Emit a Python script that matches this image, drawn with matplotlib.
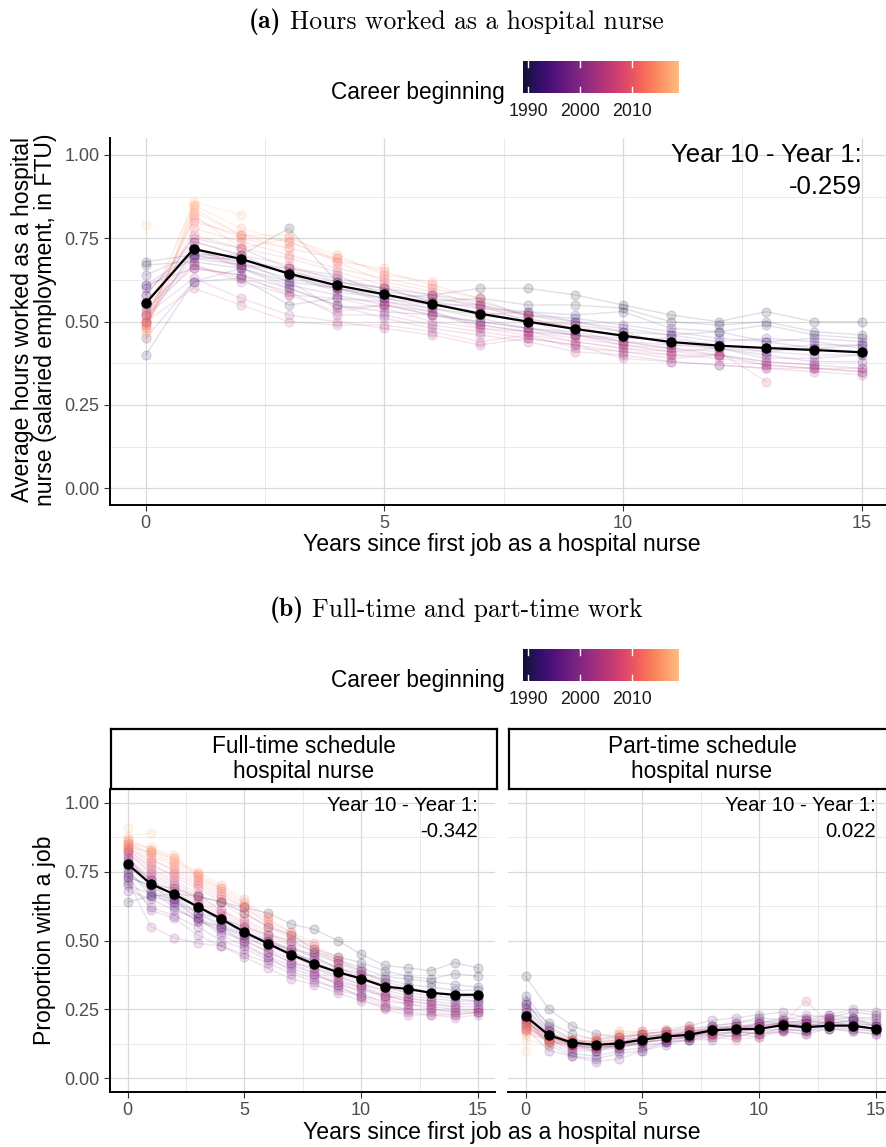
import numpy as np
import matplotlib.pyplot as plt
from matplotlib.colors import LinearSegmentedColormap, Normalize

plt.rcParams['font.family'] = ['Liberation Sans', 'DejaVu Sans']

W, H = 887, 1147

# ---- data ----
cohorts = list(range(1989, 2020))
years = list(range(16))

# (a) average hours worked, one list per career-start cohort
hours = [
    [0.68, 0.70, 0.70, 0.78, 0.62, 0.60, 0.58, 0.60, 0.60, 0.58, 0.55, 0.52, 0.50, 0.53, 0.50, 0.50],
    [0.67, 0.68, 0.66, 0.62, 0.60, 0.58, 0.56, 0.57, 0.55, 0.55, 0.54, 0.50, 0.49, 0.50, 0.47, 0.46],
    [0.40, 0.62, 0.63, 0.55, 0.57, 0.56, 0.54, 0.52, 0.53, 0.52, 0.53, 0.48, 0.47, 0.44, 0.45, 0.44],
    [0.64, 0.70, 0.67, 0.65, 0.62, 0.59, 0.57, 0.55, 0.52, 0.50, 0.47, 0.46, 0.47, 0.49, 0.46, 0.45],
    [0.61, 0.66, 0.64, 0.60, 0.55, 0.53, 0.52, 0.50, 0.48, 0.46, 0.43, 0.41, 0.42, 0.40, 0.38, 0.38],
    [0.60, 0.69, 0.67, 0.63, 0.60, 0.57, 0.58, 0.56, 0.52, 0.51, 0.49, 0.47, 0.45, 0.44, 0.42, 0.43],
    [0.45, 0.62, 0.66, 0.61, 0.58, 0.55, 0.53, 0.49, 0.47, 0.46, 0.45, 0.45, 0.43, 0.41, 0.42, 0.41],
    [0.61, 0.70, 0.68, 0.66, 0.63, 0.60, 0.56, 0.54, 0.53, 0.50, 0.48, 0.46, 0.44, 0.45, 0.44, 0.42],
    [0.58, 0.74, 0.70, 0.64, 0.60, 0.57, 0.55, 0.55, 0.50, 0.49, 0.47, 0.43, 0.43, 0.42, 0.43, 0.43],
    [0.50, 0.71, 0.68, 0.62, 0.54, 0.55, 0.52, 0.50, 0.48, 0.47, 0.44, 0.43, 0.42, 0.39, 0.39, 0.40],
    [0.58, 0.75, 0.72, 0.66, 0.64, 0.58, 0.55, 0.53, 0.51, 0.48, 0.46, 0.44, 0.42, 0.41, 0.40, 0.40],
    [0.53, 0.69, 0.69, 0.64, 0.59, 0.57, 0.54, 0.51, 0.48, 0.46, 0.44, 0.42, 0.40, 0.38, 0.37, 0.36],
    [0.55, 0.67, 0.63, 0.59, 0.52, 0.52, 0.49, 0.47, 0.45, 0.43, 0.41, 0.39, 0.40, 0.37, 0.36, 0.35],
    [0.56, 0.72, 0.66, 0.60, 0.55, 0.51, 0.48, 0.46, 0.44, 0.41, 0.40, 0.38, 0.37, 0.36, 0.35, 0.34],
    [0.52, 0.63, 0.57, 0.52, 0.50, 0.48, 0.46, 0.43, 0.45, 0.43, 0.39, 0.38, 0.37, 0.36, 0.36, 0.35],
    [0.54, 0.66, 0.64, 0.58, 0.57, 0.54, 0.50, 0.48, 0.47, 0.44, 0.42, 0.40, 0.39, 0.37, 0.36, 0.36],
    [0.50, 0.60, 0.55, 0.50, 0.49, 0.49, 0.47, 0.44, 0.46, 0.42, 0.41, 0.40, 0.40, 0.38, 0.37],
    [0.52, 0.67, 0.62, 0.58, 0.53, 0.55, 0.52, 0.49, 0.47, 0.45, 0.43, 0.42, 0.41, 0.32],
    [0.49, 0.72, 0.67, 0.66, 0.60, 0.56, 0.53, 0.48, 0.46, 0.44, 0.42, 0.41, 0.40],
    [0.50, 0.74, 0.70, 0.67, 0.62, 0.60, 0.56, 0.52, 0.50, 0.46, 0.44, 0.42],
    [0.52, 0.76, 0.72, 0.69, 0.65, 0.61, 0.58, 0.54, 0.52, 0.49, 0.45],
    [0.48, 0.78, 0.74, 0.70, 0.66, 0.63, 0.60, 0.57, 0.51, 0.48],
    [0.51, 0.80, 0.76, 0.74, 0.68, 0.62, 0.59, 0.55, 0.52],
    [0.50, 0.81, 0.75, 0.72, 0.69, 0.65, 0.61, 0.57],
    [0.49, 0.82, 0.72, 0.75, 0.70, 0.64, 0.62],
    [0.48, 0.83, 0.76, 0.76, 0.68, 0.66],
    [0.53, 0.85, 0.78, 0.74, 0.69],
    [0.47, 0.84, 0.76, 0.72],
    [0.50, 0.86, 0.82],
    [0.46, 0.85],
    [0.79],
]
mean_hours = [0.555, 0.718, 0.688, 0.644, 0.609, 0.582, 0.553, 0.524,
              0.500, 0.478, 0.458, 0.439, 0.428, 0.421, 0.415, 0.408]

# (b) proportion with a full-time hospital nurse job
fulltime = [
    [0.64, 0.66, 0.67, 0.66, 0.64, 0.62, 0.60, 0.56, 0.54, 0.50, 0.45, 0.41, 0.40, 0.39, 0.42, 0.40],
    [0.73, 0.70, 0.69, 0.66, 0.64, 0.60, 0.55, 0.52, 0.47, 0.44, 0.42, 0.39, 0.37, 0.36, 0.38, 0.37],
    [0.70, 0.67, 0.65, 0.60, 0.58, 0.55, 0.52, 0.50, 0.46, 0.43, 0.40, 0.37, 0.36, 0.35, 0.34, 0.33],
    [0.75, 0.68, 0.62, 0.57, 0.55, 0.52, 0.50, 0.47, 0.44, 0.40, 0.38, 0.36, 0.34, 0.33, 0.32, 0.32],
    [0.76, 0.66, 0.64, 0.60, 0.56, 0.52, 0.49, 0.47, 0.45, 0.42, 0.39, 0.35, 0.33, 0.31, 0.30, 0.30],
    [0.73, 0.70, 0.65, 0.58, 0.55, 0.51, 0.48, 0.45, 0.43, 0.40, 0.37, 0.34, 0.32, 0.31, 0.30, 0.29],
    [0.79, 0.72, 0.66, 0.62, 0.57, 0.53, 0.50, 0.46, 0.42, 0.39, 0.36, 0.33, 0.31, 0.30, 0.29, 0.28],
    [0.68, 0.65, 0.61, 0.58, 0.53, 0.50, 0.46, 0.42, 0.40, 0.37, 0.34, 0.32, 0.30, 0.29, 0.28, 0.28],
    [0.71, 0.62, 0.59, 0.55, 0.50, 0.47, 0.43, 0.40, 0.37, 0.35, 0.33, 0.30, 0.29, 0.28, 0.27, 0.27],
    [0.77, 0.70, 0.64, 0.58, 0.52, 0.48, 0.44, 0.41, 0.38, 0.34, 0.32, 0.30, 0.28, 0.27, 0.26, 0.26],
    [0.74, 0.61, 0.58, 0.52, 0.48, 0.45, 0.42, 0.38, 0.35, 0.33, 0.30, 0.28, 0.27, 0.26, 0.25, 0.25],
    [0.80, 0.72, 0.66, 0.60, 0.55, 0.49, 0.44, 0.39, 0.36, 0.32, 0.30, 0.26, 0.25, 0.25, 0.24, 0.24],
    [0.72, 0.55, 0.51, 0.49, 0.48, 0.44, 0.40, 0.36, 0.34, 0.31, 0.28, 0.26, 0.24, 0.23, 0.23, 0.24],
    [0.81, 0.69, 0.63, 0.57, 0.54, 0.50, 0.46, 0.42, 0.38, 0.34, 0.29, 0.25, 0.23, 0.23, 0.22, 0.23],
    [0.78, 0.72, 0.68, 0.63, 0.58, 0.52, 0.47, 0.43, 0.39, 0.35, 0.31, 0.27, 0.25, 0.24, 0.23, 0.24],
    [0.82, 0.74, 0.70, 0.65, 0.60, 0.55, 0.50, 0.45, 0.40, 0.36, 0.33, 0.29, 0.27, 0.25, 0.24, 0.25],
    [0.80, 0.73, 0.69, 0.64, 0.59, 0.54, 0.49, 0.44, 0.41, 0.37, 0.34, 0.30, 0.28, 0.27, 0.26],
    [0.83, 0.76, 0.72, 0.67, 0.61, 0.56, 0.51, 0.46, 0.42, 0.38, 0.35, 0.31, 0.29, 0.28],
    [0.82, 0.75, 0.71, 0.66, 0.61, 0.57, 0.52, 0.48, 0.44, 0.40, 0.36, 0.33, 0.31],
    [0.84, 0.78, 0.73, 0.69, 0.64, 0.58, 0.53, 0.49, 0.46, 0.42, 0.38, 0.35],
    [0.83, 0.77, 0.74, 0.70, 0.65, 0.60, 0.55, 0.51, 0.47, 0.43, 0.39],
    [0.85, 0.80, 0.75, 0.71, 0.66, 0.62, 0.56, 0.52, 0.48, 0.44],
    [0.84, 0.79, 0.76, 0.72, 0.67, 0.62, 0.57, 0.53, 0.49],
    [0.86, 0.81, 0.77, 0.73, 0.68, 0.63, 0.58, 0.53],
    [0.85, 0.82, 0.78, 0.74, 0.69, 0.64, 0.59],
    [0.86, 0.83, 0.79, 0.75, 0.70, 0.65],
    [0.84, 0.82, 0.80, 0.73, 0.69],
    [0.87, 0.83, 0.81, 0.74],
    [0.85, 0.84, 0.80],
    [0.88, 0.89],
    [0.91],
]
mean_fulltime = [0.778, 0.705, 0.668, 0.623, 0.579, 0.531, 0.489, 0.449,
                 0.414, 0.385, 0.362, 0.333, 0.324, 0.310, 0.303, 0.303]

# (b) proportion with a part-time hospital nurse job
parttime = [
    [0.27, 0.20, 0.16, 0.14, 0.15, 0.16, 0.17, 0.18, 0.19, 0.20, 0.22, 0.21, 0.20, 0.22, 0.24, 0.23],
    [0.37, 0.25, 0.19, 0.16, 0.15, 0.16, 0.15, 0.17, 0.17, 0.18, 0.20, 0.20, 0.21, 0.20, 0.21, 0.20],
    [0.20, 0.13, 0.09, 0.08, 0.10, 0.11, 0.13, 0.14, 0.16, 0.15, 0.17, 0.18, 0.17, 0.19, 0.19, 0.18],
    [0.30, 0.19, 0.14, 0.12, 0.11, 0.13, 0.14, 0.15, 0.18, 0.19, 0.19, 0.20, 0.19, 0.20, 0.21, 0.19],
    [0.24, 0.15, 0.12, 0.10, 0.12, 0.12, 0.13, 0.14, 0.15, 0.17, 0.16, 0.18, 0.17, 0.18, 0.18, 0.17],
    [0.28, 0.17, 0.13, 0.12, 0.13, 0.15, 0.16, 0.15, 0.17, 0.18, 0.18, 0.19, 0.18, 0.21, 0.22, 0.19],
    [0.22, 0.12, 0.08, 0.07, 0.09, 0.10, 0.12, 0.14, 0.14, 0.16, 0.15, 0.17, 0.16, 0.18, 0.17, 0.16],
    [0.27, 0.18, 0.14, 0.13, 0.14, 0.16, 0.17, 0.19, 0.21, 0.22, 0.23, 0.24, 0.22, 0.23, 0.22, 0.22],
    [0.18, 0.10, 0.08, 0.06, 0.07, 0.10, 0.13, 0.15, 0.17, 0.18, 0.19, 0.20, 0.19, 0.20, 0.20, 0.19],
    [0.25, 0.17, 0.12, 0.11, 0.12, 0.13, 0.15, 0.16, 0.19, 0.18, 0.20, 0.22, 0.21, 0.23, 0.25, 0.24],
    [0.21, 0.14, 0.10, 0.10, 0.11, 0.13, 0.14, 0.15, 0.16, 0.17, 0.16, 0.17, 0.18, 0.19, 0.18, 0.17],
    [0.26, 0.16, 0.12, 0.11, 0.12, 0.14, 0.16, 0.17, 0.19, 0.20, 0.21, 0.20, 0.20, 0.21, 0.19, 0.18],
    [0.23, 0.16, 0.13, 0.12, 0.13, 0.14, 0.15, 0.16, 0.18, 0.19, 0.20, 0.21, 0.23, 0.22, 0.20, 0.19],
    [0.19, 0.14, 0.11, 0.10, 0.12, 0.13, 0.14, 0.15, 0.17, 0.16, 0.18, 0.19, 0.20, 0.18, 0.17, 0.16],
    [0.22, 0.15, 0.12, 0.12, 0.13, 0.15, 0.16, 0.16, 0.17, 0.18, 0.19, 0.20, 0.21, 0.22, 0.22, 0.21],
    [0.21, 0.14, 0.11, 0.11, 0.12, 0.14, 0.15, 0.16, 0.16, 0.17, 0.18, 0.19, 0.20, 0.20, 0.19, 0.18],
    [0.24, 0.16, 0.13, 0.12, 0.13, 0.15, 0.16, 0.17, 0.18, 0.19, 0.18, 0.20, 0.28, 0.20, 0.19],
    [0.20, 0.15, 0.12, 0.11, 0.12, 0.13, 0.15, 0.15, 0.16, 0.15, 0.17, 0.18, 0.19, 0.21],
    [0.19, 0.13, 0.12, 0.12, 0.13, 0.14, 0.15, 0.17, 0.18, 0.17, 0.16, 0.17, 0.16],
    [0.22, 0.16, 0.13, 0.13, 0.13, 0.14, 0.16, 0.16, 0.17, 0.18, 0.19, 0.20],
    [0.18, 0.14, 0.12, 0.11, 0.11, 0.13, 0.14, 0.15, 0.15, 0.14, 0.15],
    [0.21, 0.15, 0.14, 0.13, 0.14, 0.15, 0.16, 0.18, 0.17, 0.19],
    [0.17, 0.14, 0.12, 0.12, 0.14, 0.16, 0.17, 0.17, 0.18],
    [0.20, 0.16, 0.14, 0.13, 0.15, 0.17, 0.18, 0.19],
    [0.18, 0.15, 0.13, 0.14, 0.16, 0.17, 0.16],
    [0.19, 0.16, 0.14, 0.15, 0.17, 0.17],
    [0.17, 0.13, 0.13, 0.14, 0.16],
    [0.16, 0.14, 0.13, 0.12],
    [0.19, 0.15, 0.14],
    [0.14, 0.12],
    [0.10],
]
mean_parttime = [0.225, 0.156, 0.129, 0.121, 0.126, 0.140, 0.151, 0.158,
                 0.174, 0.178, 0.179, 0.193, 0.185, 0.191, 0.191, 0.179]

diff_hours = "-0.259"
diff_fulltime = "-0.342"
diff_parttime = "0.022"

cbar_ticks = [1990, 2000, 2010]
y_ticks = [0.0, 0.25, 0.5, 0.75, 1.0]
x_ticks = [0, 5, 10, 15]

# magma, trimmed like viridis begin/end
cmap = LinearSegmentedColormap.from_list(
    'magma_cut', plt.get_cmap('magma')(np.linspace(0.1, 0.86, 256)))
norm = Normalize(cohorts[0], cohorts[-1])

fig = plt.figure(figsize=(W / 100, H / 100), dpi=100)
renderer = fig.canvas.get_renderer()


def px_axes(x0, y0, x1, y1):
    return fig.add_axes([x0 / W, 1 - y1 / H, (x1 - x0) / W, (y1 - y0) / H])


def serif_title(ycenter, tag, rest, fs=18.5):
    # bold tag + regular text, centred as one line
    t1 = fig.text(0, 0, tag, family='cmb10', fontsize=fs, va='center')
    t2 = fig.text(0, 0, rest, family='cmr10', fontsize=fs, va='center')
    w1 = t1.get_window_extent(renderer).width
    w2 = t2.get_window_extent(renderer).width
    gap = 0.33 * fs * 100 / 72
    x0 = 456 - (w1 + gap + w2) / 2
    t1.set_position((x0 / W, 1 - ycenter / H))
    t2.set_position(((x0 + w1 + gap) / W, 1 - ycenter / H))


def style_axes(ax, show_y=True):
    ax.set_xlim(-0.75, 15.75)
    ax.set_ylim(-0.05, 1.05)
    ax.set_xticks(x_ticks)
    ax.set_xticks([2.5, 7.5, 12.5], minor=True)
    ax.set_yticks(y_ticks)
    ax.set_yticks([0.125, 0.375, 0.625, 0.875], minor=True)
    ax.set_yticklabels(['%.2f' % v for v in y_ticks])
    ax.grid(which='major', color='#D9D9D9', lw=0.9, zorder=0)
    ax.grid(which='minor', color='#E6E6E6', lw=0.6, zorder=0)
    ax.set_axisbelow(True)
    for s in ['top', 'right']:
        ax.spines[s].set_visible(False)
    ax.spines['bottom'].set_linewidth(1.4)
    ax.spines['left'].set_linewidth(1.4)
    ax.tick_params(which='major', length=4, width=0.8, color='#333333',
                   labelcolor='#4D4D4D', labelsize=13)
    ax.tick_params(which='minor', length=0)
    if not show_y:
        ax.spines['left'].set_visible(False)
        ax.tick_params(axis='y', which='both', length=0, labelleft=False)


def draw_cohorts(ax, series, mean):
    for c, vals in zip(cohorts, series):
        col = cmap(norm(c))
        x = np.arange(len(vals))
        ax.plot(x, vals, color=col, alpha=0.13, lw=1.0, zorder=2)
        ax.plot(x, vals, 'o', ms=6.5, color=col, alpha=0.14, mew=0.9, zorder=3)
    ax.plot(years, mean, color='black', lw=1.6, zorder=5)
    ax.plot(years, mean, 'o', color='black', ms=6.5, zorder=6)


def add_legend(ytop):
    cax = px_axes(523, ytop, 679, ytop + 32)
    grad = np.linspace(cohorts[0], cohorts[-1], 256)[None, :]
    cax.imshow(grad, cmap=cmap, norm=norm, aspect='auto',
               extent=(cohorts[0], cohorts[-1], 0, 1))
    cax.set_xlim(cohorts[0], cohorts[-1])
    cax.set_ylim(0, 1)
    cax.axis('off')
    for t in cbar_ticks:
        cax.plot([t, t], [0, 0.2], color='white', lw=1)
        cax.plot([t, t], [0.8, 1], color='white', lw=1)
        cax.text(t, -0.3, str(t), ha='center', va='top', fontsize=12.8,
                 color='#1A1A1A')
    fig.text(505 / W, 1 - (ytop + 31) / H, 'Career beginning', ha='right',
             va='center', fontsize=16.3, color='black')


# ---- (a) ----
serif_title(22, '(a)', 'Hours worked as a hospital nurse')
add_legend(61)

ax1 = px_axes(110, 138.3, 897.5, 505)
style_axes(ax1)
draw_cohorts(ax1, hours, mean_hours)
ax1.text(15, 1.035, 'Year 10 - Year 1:\n' + diff_hours, ha='right', va='top',
         fontsize=18.5, linespacing=1.42)
fig.text(34 / W, 1 - 320 / H,
         'Average hours worked as a hospital\nnurse (salaried employment, in FTU)',
         rotation=90, ha='center', va='center', fontsize=16.6, linespacing=1.05)
fig.text(502 / W, 1 - 545 / H, 'Years since first job as a hospital nurse',
         ha='center', va='center', fontsize=16.6)

# ---- (b) ----
serif_title(610, '(b)', 'Full-time and part-time work')
add_legend(649)

panels = [
    (110, 'Full-time schedule\nhospital nurse', fulltime, mean_fulltime, diff_fulltime, True),
    (508, 'Part-time schedule\nhospital nurse', parttime, mean_parttime, diff_parttime, False),
]
for x0, strip_txt, series, mean, diff, show_y in panels:
    ax = px_axes(x0, 789, x0 + 385.5, 1092)
    style_axes(ax, show_y)
    draw_cohorts(ax, series, mean)
    ax.text(15, 1.025, 'Year 10 - Year 1:\n' + diff, ha='right', va='top',
            fontsize=14.7, linespacing=1.45)
    sax = px_axes(x0 + 1, 729, x0 + 387, 789)
    sax.set_xticks([])
    sax.set_yticks([])
    for s in sax.spines.values():
        s.set_linewidth(1.6)
        s.set_color('black')
    sax.text(0.5, 0.5, strip_txt, ha='center', va='center', fontsize=16.3,
             linespacing=1.08, transform=sax.transAxes)

fig.text(45 / W, 1 - 940 / H, 'Proportion with a job', rotation=90,
         ha='center', va='center', fontsize=16.6)
fig.text(502 / W, 1 - 1133 / H, 'Years since first job as a hospital nurse',
         ha='center', va='center', fontsize=16.6)

fig.savefig('out.png', dpi=100)
